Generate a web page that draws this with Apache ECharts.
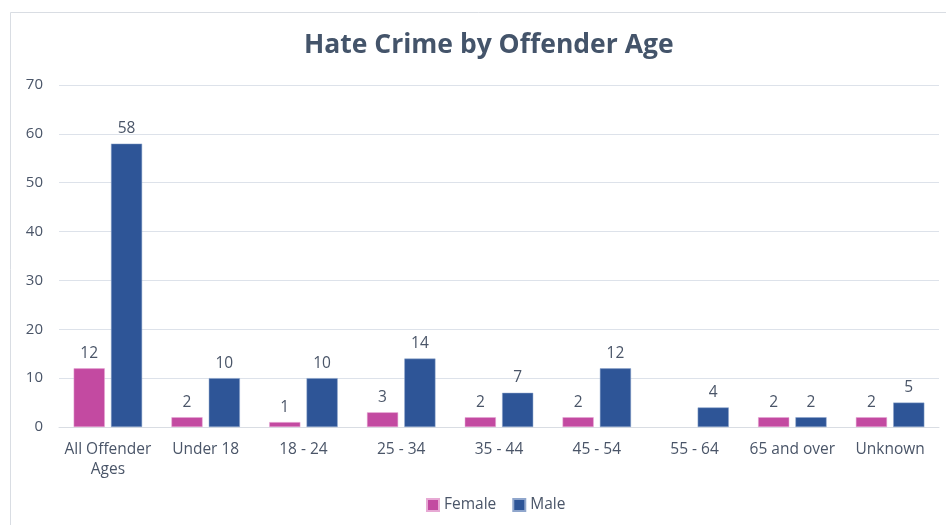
<!DOCTYPE html>
<html>
<head>
<meta charset="utf-8">
<script src="https://cdn.jsdelivr.net/npm/echarts@6/dist/echarts.min.js"></script>
<style>
  html, body { margin: 0; padding: 0; background: #fff; }
  #chart { width: 946px; height: 525px; }
</style>
</head>
<body>
<div id="chart"></div>
<script>
const categories = ['All Offender\nAges', 'Under 18', '18 - 24', '25 - 34', '35 - 44', '45 - 54', '55 - 64', '65 and over', 'Unknown'];
const femaleValues = [12, 2, 1, 3, 2, 2, null, 2, 2];
const maleValues = [58, 10, 10, 14, 7, 12, 4, 2, 5];
const yTicks = { min: 0, max: 70, interval: 10 };

const textColor = '#4a5568';
const font = 'Open Sans';

const chart = echarts.init(document.getElementById('chart'), null, { renderer: 'canvas' });

const labelStyle = {
  show: true,
  position: 'top',
  distance: 7,
  color: textColor,
  fontFamily: font,
  fontSize: 15.5
};

chart.setOption({
  animation: false,
  backgroundColor: '#ffffff',
  graphic: [{
    type: 'rect',
    silent: true,
    shape: { x: 10.5, y: 12.5, width: 1000, height: 600 },
    style: { fill: 'none', stroke: '#d9dde3', lineWidth: 1 }
  }],
  title: {
    text: 'Hate Crime by Offender Age',
    left: 299,
    top: 27,
    textStyle: {
      color: '#44546a',
      fontFamily: font,
      fontWeight: 'bold',
      fontSize: 26.5
    }
  },
  legend: {
    bottom: 7,
    left: 421,
    itemWidth: 12,
    itemHeight: 12,
    itemGap: 16,
    icon: 'rect',
    textStyle: { color: textColor, fontFamily: font, fontSize: 15.5 },
    data: ['Female', 'Male']
  },
  grid: {
    left: 59,
    right: 7,
    top: 85,
    bottom: 98,
    containLabel: false
  },
  xAxis: {
    type: 'category',
    data: categories,
    axisLine: { show: true, lineStyle: { color: '#d9dde3', width: 1 } },
    axisTick: { show: false },
    axisLabel: {
      color: textColor,
      fontFamily: font,
      fontSize: 15.5,
      margin: 13,
      lineHeight: 20,
      interval: 0
    }
  },
  yAxis: {
    type: 'value',
    min: yTicks.min,
    max: yTicks.max,
    interval: yTicks.interval,
    axisLine: { show: false },
    axisTick: { show: false },
    splitLine: { lineStyle: { color: '#dde2ea', width: 1 } },
    axisLabel: {
      color: textColor,
      fontFamily: font,
      fontSize: 15,
      margin: 16
    }
  },
  series: [
    {
      name: 'Female',
      type: 'bar',
      data: femaleValues,
      barGap: '20%',
      barCategoryGap: '30%',
      itemStyle: { color: '#c34aa1', borderColor: '#e7a9d4', borderWidth: 0.5 },
      label: labelStyle
    },
    {
      name: 'Male',
      type: 'bar',
      data: maleValues,
      barGap: '20%',
      barCategoryGap: '30%',
      itemStyle: { color: '#2e5597', borderColor: '#8fa6cc', borderWidth: 0.5 },
      label: labelStyle
    }
  ]
});
</script>
</body>
</html>
